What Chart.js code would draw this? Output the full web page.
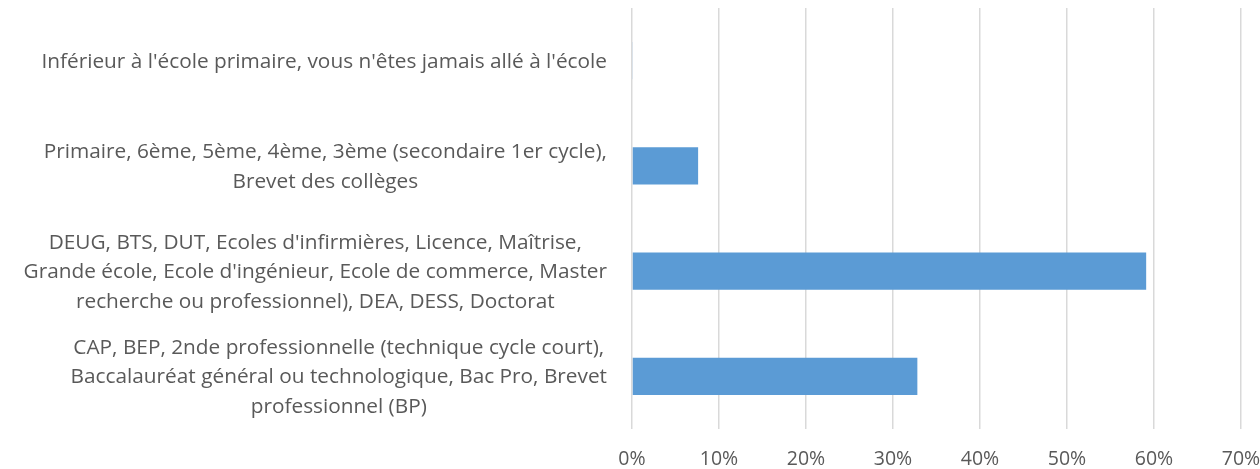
<!DOCTYPE html>
<html>
<head>
<meta charset="utf-8">
<script src="https://cdn.jsdelivr.net/npm/chart.js@4/dist/chart.umd.min.js"></script>
<style>
    html, body { margin: 0; padding: 0; background: #ffffff; }
    #wrap { width: 1260px; height: 469px; position: relative; }
</style>
</head>
<body>
<div id="wrap"><canvas id="levelChart"></canvas></div>
<script>
(function () {
    'use strict';

    const categories = [
        ["Inférieur à l'école primaire, vous n'êtes jamais allé à l'école"],
        ["Primaire, 6ème, 5ème, 4ème, 3ème (secondaire 1er cycle),", "Brevet des collèges"],
        ["DEUG, BTS, DUT, Ecoles d'infirmières, Licence, Maîtrise,", "Grande école, Ecole d'ingénieur, Ecole de commerce, Master", "recherche ou professionnel), DEA, DESS, Doctorat"],
        ["CAP, BEP, 2nde professionnelle (technique cycle court),", "Baccalauréat général ou technologique, Bac Pro, Brevet", "professionnel (BP)"]
    ];
    const shares = [0.1, 7.6, 59.1, 32.8];
    const tickValues = [0, 10, 20, 30, 40, 50, 60, 70];

    const FONT = '"Open Sans", Lato, sans-serif';
    const TEXT = '#595959';

    // multi-line labels: block right-aligned, lines centred inside the block
    const labelPlugin = {
        id: 'blockLabels',
        afterDraw: function (chart) {
            const ctx = chart.ctx;
            const yScale = chart.scales.y;
            const right = chart.chartArea.left - 25;
            const lineHeight = 29.5;
            ctx.save();
            ctx.font = '20.8px ' + FONT;
            ctx.fillStyle = TEXT;
            ctx.textAlign = 'center';
            ctx.textBaseline = 'middle';
            categories.forEach(function (lines, i) {
                const cy = yScale.getPixelForValue(i) + 1;
                const widest = Math.max.apply(null, lines.map(function (l) { return ctx.measureText(l).width; }));
                const cx = right - widest / 2;
                const top = cy - (lines.length - 1) * lineHeight / 2;
                lines.forEach(function (line, k) {
                    ctx.fillText(line, cx, top + k * lineHeight);
                });
            });
            ctx.restore();
        }
    };

    new Chart(document.getElementById('levelChart'), {
        type: 'bar',
        data: {
            labels: categories.map(function (c) { return c.join(' '); }),
            datasets: [{
                data: shares,
                backgroundColor: '#5b9bd5',
                borderWidth: 0,
                categoryPercentage: 1,
                barPercentage: 0.355
            }]
        },
        options: {
            indexAxis: 'y',
            responsive: true,
            maintainAspectRatio: false,
            animation: false,
            layout: { padding: { top: 8, right: 19, bottom: 0, left: 0 } },
            plugins: {
                legend: { display: false },
                tooltip: { enabled: false }
            },
            scales: {
                x: {
                    min: 0,
                    max: 70,
                    afterBuildTicks: function (scale) {
                        scale.ticks = tickValues.map(function (v) { return { value: v }; });
                    },
                    afterFit: function (scale) {
                        scale.height = 40;
                        scale.paddingLeft = 0;
                        scale.paddingRight = 0;
                    },
                    grid: { color: '#d9d9d9', lineWidth: 1.5, drawTicks: false },
                    border: { display: false },
                    ticks: {
                        padding: 19,
                        color: TEXT,
                        font: { family: FONT, size: 19.5 },
                        callback: function (v) { return v + '%'; }
                    }
                },
                y: {
                    grid: { display: false },
                    border: { display: false },
                    ticks: { display: false },
                    afterFit: function (scale) { scale.width = 632; }
                }
            }
        },
        plugins: [labelPlugin]
    });
})();
</script>
</body>
</html>
